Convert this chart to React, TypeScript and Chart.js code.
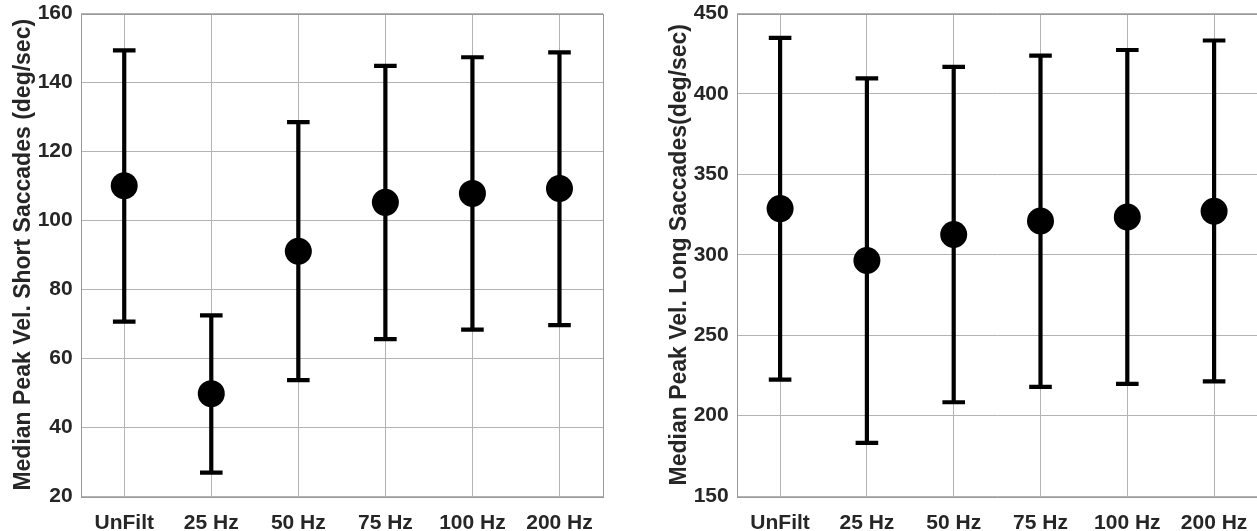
import React, { useEffect, useRef } from "react";
import { Chart, registerables } from "chart.js";

Chart.register(...registerables);

const categories = ["UnFilt", "25 Hz", "50 Hz", "75 Hz", "100 Hz", "200 Hz"];

const shortMedian = [110, 49.7, 91, 105.2, 107.8, 109.2];
const shortUpper = [149.3, 72.4, 128.5, 144.8, 147.3, 148.7];
const shortLower = [70.6, 26.8, 53.6, 65.5, 68.3, 69.6];

const longMedian = [328.7, 296.4, 312.6, 321, 323.5, 327];
const longUpper = [434.9, 409.7, 416.8, 423.8, 427.3, 433.2];
const longLower = [222.4, 183, 208.3, 217.8, 219.7, 221.3];

const shortTitle = "Median Peak Vel. Short Saccades (deg/sec)";
const longTitle = "Median Peak Vel. Long Saccades(deg/sec)";

const FONT = "'Liberation Sans', Arial, sans-serif";
const TEXT = "#262626";
const GRID = "#b3b3b3";
const BOX = "#9a9a9a";

type PanelProps = {
  median: number[];
  upper: number[];
  lower: number[];
  title: string;
  yMin: number;
  yMax: number;
  step: number;
  axisWidth: number;
  titlePad: number;
  padRight: number;
  width: number;
};

function Panel(p: PanelProps) {
  const ref = useRef<HTMLCanvasElement | null>(null);
  useEffect(() => {
    if (!ref.current) return;
    const errorBars = {
      id: "errorBars",
      beforeDatasetsDraw(chart: any) {
        const ctx = chart.ctx;
        const xs = chart.scales.x;
        const ys = chart.scales.y;
        ctx.save();
        ctx.strokeStyle = "#000";
        ctx.lineWidth = 4.2;
        ctx.lineCap = "butt";
        for (let i = 0; i < p.median.length; i++) {
          const x = xs.getPixelForValue(i);
          const yt = ys.getPixelForValue(p.upper[i]);
          const yb = ys.getPixelForValue(p.lower[i]);
          const hw = 11.3;
          ctx.beginPath();
          ctx.moveTo(x, yt);
          ctx.lineTo(x, yb);
          ctx.moveTo(x - hw, yt);
          ctx.lineTo(x + hw, yt);
          ctx.moveTo(x - hw, yb);
          ctx.lineTo(x + hw, yb);
          ctx.stroke();
        }
        ctx.restore();
      },
    };
    const box = {
      id: "box",
      beforeDatasetsDraw(chart: any) {
        const { left, top, right, bottom } = chart.chartArea;
        const ctx = chart.ctx;
        ctx.save();
        ctx.strokeStyle = BOX;
        ctx.lineWidth = 1;
        ctx.strokeRect(Math.round(left) + 0.5, Math.round(top) + 0.5, Math.round(right - left), Math.round(bottom - top));
        ctx.restore();
      },
    };
    const chart = new Chart(ref.current, {
      type: "line",
      data: {
        labels: categories,
        datasets: [
          {
            data: p.median,
            showLine: false,
            pointRadius: 13.5,
            pointBackgroundColor: "#000",
            pointBorderColor: "#000",
            pointBorderWidth: 0,
          },
        ],
      },
      options: {
        animation: false,
        responsive: false,
        maintainAspectRatio: false,
        events: [],
        layout: { padding: { top: 13, right: p.padRight, left: 0, bottom: 0 } },
        plugins: { legend: { display: false }, tooltip: { enabled: false } },
        scales: {
          x: {
            type: "category",
            offset: true,
            grid: { color: GRID, lineWidth: 1, drawTicks: false, offset: false },
            border: { display: false },
            ticks: { color: TEXT, font: { family: FONT, size: 21, weight: "bold" }, padding: 15, maxRotation: 0, autoSkip: false },
            afterFit(scale: any) {
              scale.height = 35;
              scale.paddingLeft = 0;
              scale.paddingRight = 0;
            },
          },
          y: {
            min: p.yMin,
            max: p.yMax,
            grid: { color: GRID, lineWidth: 1, drawTicks: false },
            border: { display: false },
            ticks: { stepSize: p.step, color: TEXT, font: { family: FONT, size: 21, weight: "bold" }, padding: 8 },
            title: {
              display: true,
              text: p.title,
              color: TEXT,
              font: { family: FONT, size: 23, weight: "bold" },
              padding: { top: p.titlePad, bottom: 0 },
            },
            afterFit(scale: any) {
              scale.width = p.axisWidth;
              scale.paddingTop = 0;
              scale.paddingBottom = 0;
            },
          },
        },
      },
      plugins: [box, errorBars],
    } as any);
    return () => chart.destroy();
  }, []);
  return <canvas ref={ref} width={p.width} height={531} style={{ width: p.width, height: 531, display: "block" }} />;
}

export default function App() {
  return (
    <div style={{ position: "fixed", left: 0, top: 0, width: 1257, height: 531, overflow: "hidden", background: "#fff" }}>
      <div style={{ position: "absolute", left: 0, top: 0 }}>
        <Panel median={shortMedian} upper={shortUpper} lower={shortLower} title={shortTitle} yMin={20} yMax={160} step={20} axisWidth={80.7} titlePad={10} padRight={27} width={630} />
      </div>
      <div style={{ position: "absolute", left: 630, top: 0 }}>
        <Panel median={longMedian} upper={longUpper} lower={longLower} title={longTitle} yMin={150} yMax={450} step={50} axisWidth={106.7} titlePad={36} padRight={0} width={641} />
      </div>
    </div>
  );
}
